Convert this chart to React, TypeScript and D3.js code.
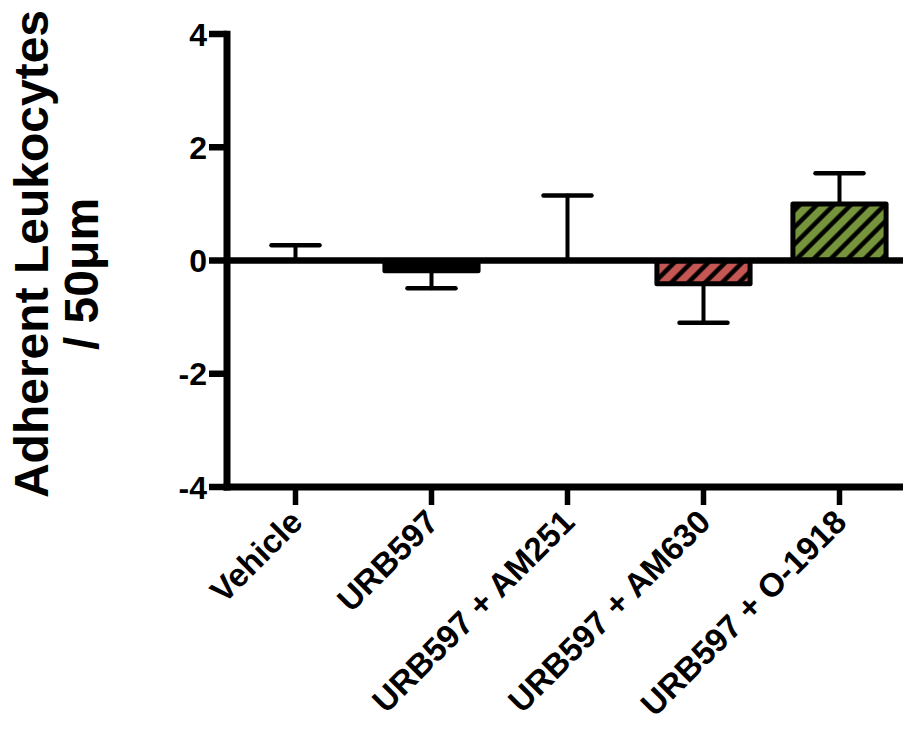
import React from "react";
import * as d3 from "d3";

// Treatment groups, group means and SEM (adherent leukocytes per 50 µm)
const categories = [
  "Vehicle",
  "URB597",
  "URB597 + AM251",
  "URB597 + AM630",
  "URB597 + O-1918",
];
const means = [0, -0.18, 0, -0.41, 1.0];
const sems = [0.27, 0.31, 1.15, 0.69, 0.54];
const fills = ["#ffffff", "#000000", "#ffffff", "url(#hatchRed)", "url(#hatchGreen)"];
const yTicks = [-4, -2, 0, 2, 4];

const W = 903;
const H = 730;
const axisX = 227;
const yTop = 34;
const yBottom = 487;
const xEnd = 903;

export default function App() {
  const y = d3.scaleLinear().domain([-4, 4]).range([yBottom, yTop]);
  const x = d3
    .scaleBand<string>()
    .domain(categories)
    .range([axisX + 0.5, axisX + 0.5 + 136 * categories.length])
    .paddingInner(0.315)
    .paddingOuter(0.1575);
  const center = (c: string) => (x(c) as number) + x.bandwidth() / 2;
  const font = "'Liberation Sans', Arial, Helvetica, sans-serif";
  const capHalf = 24;

  return (
    <svg
      width={W}
      height={H}
      style={{ position: "absolute", left: 0, top: 0, background: "#fff" }}
    >
      <defs>
        <pattern
          id="hatchRed"
          patternUnits="userSpaceOnUse"
          width={12}
          height={12}
          patternTransform="rotate(45)"
        >
          <rect width={12} height={12} fill="#c45753" />
          <line x1={2.5} y1={0} x2={2.5} y2={12} stroke="#000" strokeWidth={4.5} />
        </pattern>
        <pattern
          id="hatchGreen"
          patternUnits="userSpaceOnUse"
          width={12}
          height={12}
          patternTransform="rotate(45)"
        >
          <rect width={12} height={12} fill="#76943b" />
          <line x1={2.5} y1={0} x2={2.5} y2={12} stroke="#000" strokeWidth={4.5} />
        </pattern>
      </defs>

      {/* Bars */}
      {categories.map((c, i) => {
        const v = means[i];
        if (v === 0) return null;
        const y0 = y(Math.max(v, 0));
        const y1 = y(Math.min(v, 0));
        return (
          <rect
            key={c}
            x={x(c)}
            y={y0}
            width={x.bandwidth()}
            height={y1 - y0}
            fill={fills[i]}
            stroke="#000"
            strokeWidth={5}
            strokeLinejoin="round"
          />
        );
      })}

      {/* Error bars (one-sided, away from zero) */}
      {categories.map((c, i) => {
        const v = means[i];
        const dir = v < 0 ? -1 : 1;
        const cx = center(c);
        const yStart = y(v);
        const yEnd = y(v + dir * sems[i]);
        return (
          <g key={c} stroke="#000" strokeLinecap="round">
            <line x1={cx} x2={cx} y1={yStart} y2={yEnd} strokeWidth={4} />
            <line
              x1={cx - capHalf}
              x2={cx + capHalf}
              y1={yEnd}
              y2={yEnd}
              strokeWidth={4.5}
            />
          </g>
        );
      })}

      {/* Zero baseline */}
      <line x1={axisX} x2={xEnd} y1={y(0)} y2={y(0)} stroke="#000" strokeWidth={6.5} />

      {/* Y axis */}
      <line x1={axisX} x2={axisX} y1={yTop - 3.3} y2={yBottom + 3.5} stroke="#000" strokeWidth={7} />
      {yTicks.map((t) => (
        <g key={t}>
          <line x1={209} x2={axisX} y1={y(t)} y2={y(t)} stroke="#000" strokeWidth={6.5} />
          <text
            x={207}
            y={y(t)}
            dy="0.36em"
            textAnchor="end"
            fontFamily={font}
            fontWeight="bold"
            fontSize={32}
            fill="#000"
          >
            {t}
          </text>
        </g>
      ))}

      {/* X axis */}
      <line x1={axisX - 3.5} x2={xEnd} y1={yBottom} y2={yBottom} stroke="#000" strokeWidth={7} />
      {categories.map((c) => {
        const cx = center(c);
        return (
          <g key={c}>
            <line x1={cx} x2={cx} y1={yBottom} y2={505} stroke="#000" strokeWidth={5.5} />
            <text
              transform={`translate(${cx + 9},${524}) rotate(-45)`}
              textAnchor="end"
              fontFamily={font}
              fontWeight="bold"
              fontSize={33}
              fill="#000"
            >
              {c}
            </text>
          </g>
        );
      })}

      {/* Y axis title */}
      <g transform="rotate(-90)" fontFamily={font} fontWeight="bold" fontSize={48} fill="#000">
        <text x={-254} y={48} textAnchor="middle">
          Adherent Leukocytes
        </text>
        <text x={-274} y={98} textAnchor="middle">
          / 50μm
        </text>
      </g>
    </svg>
  );
}
